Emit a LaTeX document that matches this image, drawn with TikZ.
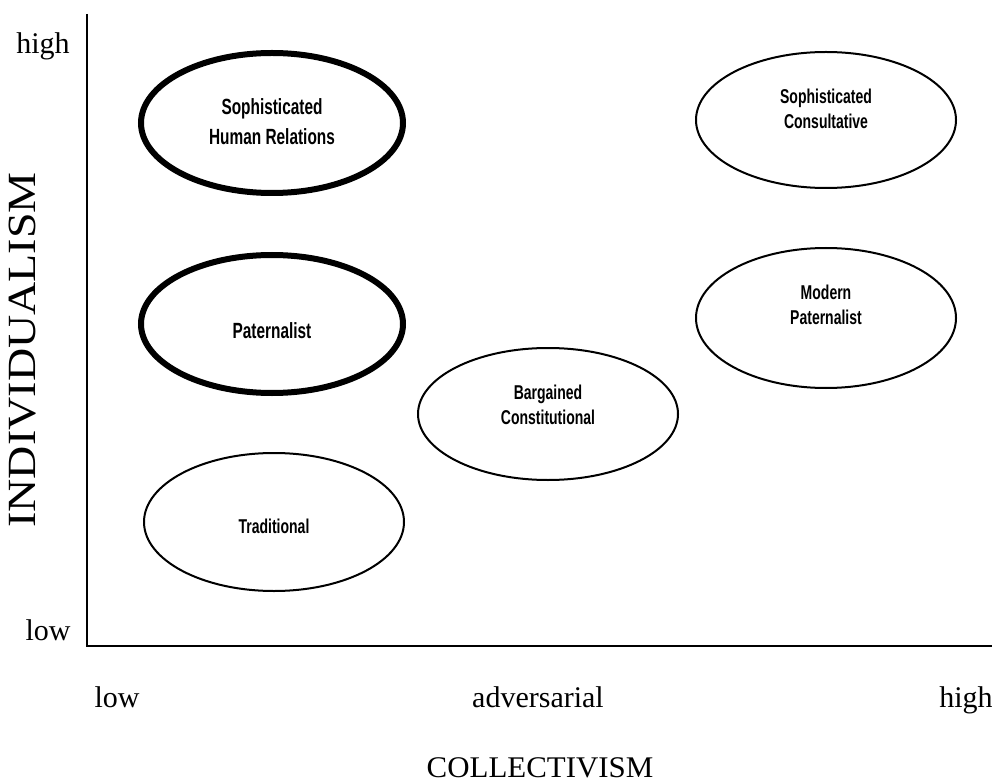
\documentclass[tikz,border=0pt]{standalone}
\usepackage{fontspec}
\setmainfont{Liberation Serif}
\newfontfamily\ovalfont[FakeStretch=0.7]{Liberation Sans}
\usetikzlibrary{shapes.geometric}
\begin{document}
\begin{tikzpicture}[x=1pt, y=-1pt,
  axislabel/.style={font=\fontsize{30}{36}\selectfont, inner sep=0pt},
  oval/.style={ellipse, draw, line width=2pt, minimum width=260pt, minimum height=136pt, inner sep=0pt},
  boldoval/.style={oval, line width=6pt},
  ovaltext/.style={align=center, inner sep=0pt, font=\ovalfont\bfseries\fontsize{20}{25}\selectfont},
  boldovaltext/.style={ovaltext, font=\ovalfont\bfseries\fontsize{22}{30}\selectfont}]
\useasboundingbox (0,0) rectangle (992,783);
% axes
\coordinate (ytop) at (87,14);
\coordinate (orig) at (87,646);
\coordinate (xend) at (992,646);
\draw[line width=2.5pt] (ytop) -- (orig) -- (xend);
\node[axislabel, anchor=base] (yhigh) at (43,54){high};
\node[axislabel, anchor=base] (ylow) at (48,640){low};
\node[axislabel, anchor=base] (xlow) at (117,707){low};
\node[axislabel, anchor=base] (xmid) at (538,707){adversarial};
\node[axislabel, anchor=base] (xhigh) at (966,707){high};
\node[axislabel, anchor=base, xscale=1.03] (xname) at (540,777){COLLECTIVISM};
\node[axislabel, rotate=90, xscale=1.15, font=\fontsize{40}{46}\selectfont] (yname) at (23,350){INDIVIDUALISM};
% ovals
\node[boldoval, minimum width=262pt, minimum height=140pt] (shr) at (272,123){};
\node[boldovaltext] (shrtext) at (272,122){Sophisticated\\Human Relations};
\node[boldoval, minimum width=262pt, minimum height=138pt] (pat) at (272,324){};
\node[boldovaltext] (pattext) at (272,331){Paternalist};
\node[oval, minimum height=138pt] (trad) at (274,522){};
\node[ovaltext] (tradtext) at (274,526){Traditional};
\node[oval, minimum height=132pt] (barg) at (548,414){};
\node[ovaltext] (bargtext) at (548,405){Bargained\\Constitutional};
\node[oval] (scons) at (826,120){};
\node[ovaltext] (sconstext) at (826,109){Sophisticated\\Consultative};
\node[oval, minimum height=140pt] (mpat) at (826,318){};
\node[ovaltext] (mpattext) at (826,305){Modern\\Paternalist};
\end{tikzpicture}
\end{document}
